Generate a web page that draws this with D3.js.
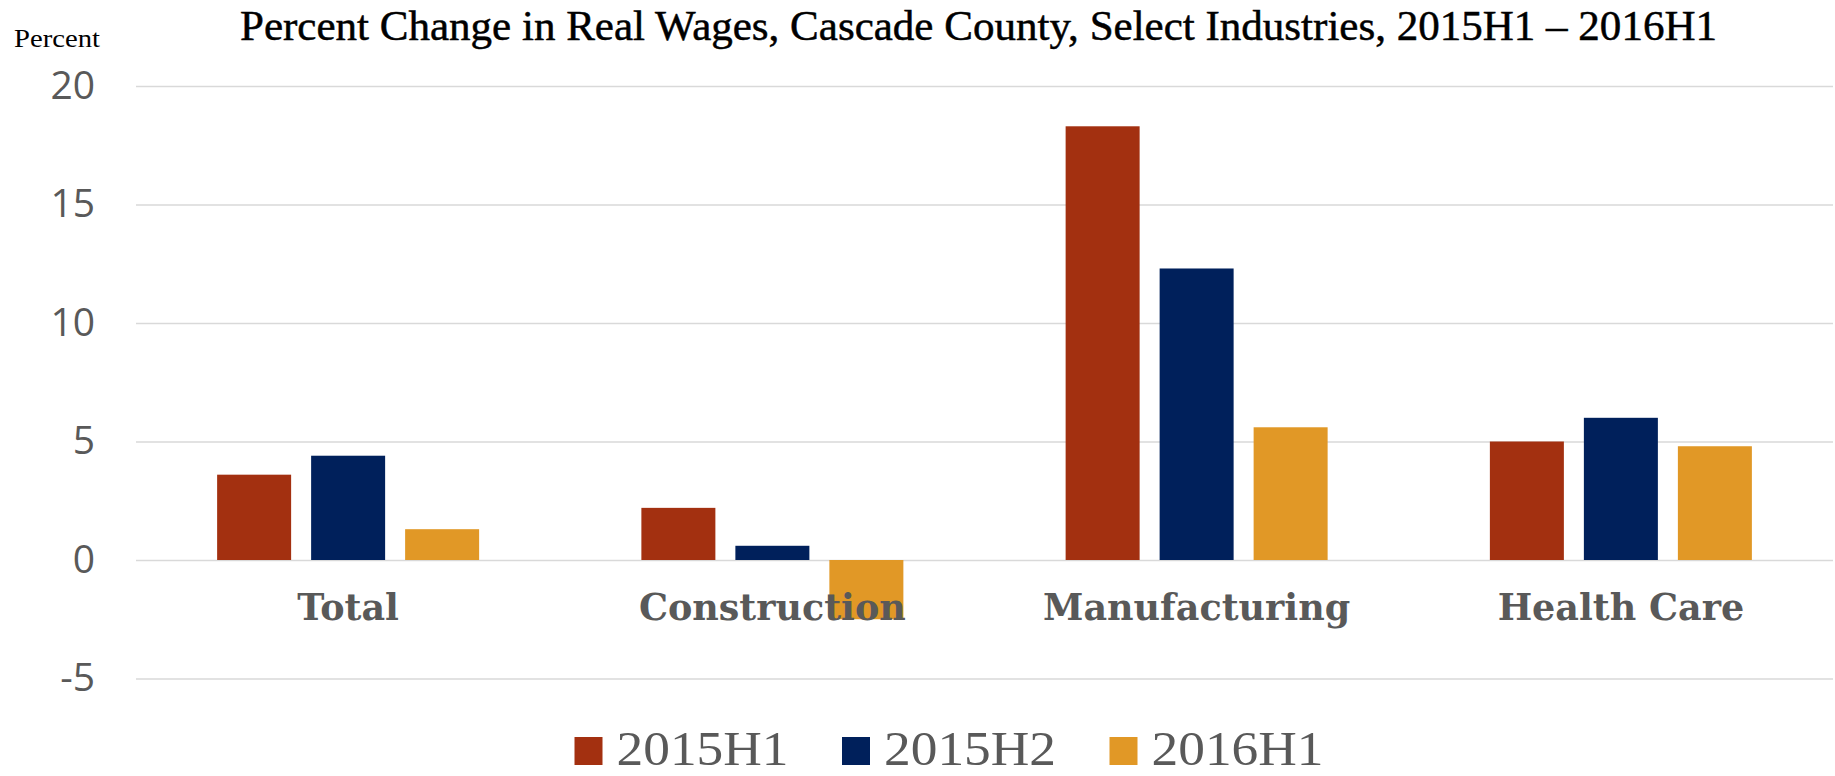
<!DOCTYPE html>
<meta charset="utf-8">
<script src="https://d3js.org/d3.v7.min.js"></script>
<style>
  body { margin: 0; background: #fff; }
</style>
<svg id="chart" width="1835" height="776"></svg>

<script>
  // data
  var categories = ["Total", "Construction", "Manufacturing", "Health Care"];
  var seriesNames = ["2015H1", "2015H2", "2016H1"];
  var h1_2015 = [3.6, 2.2, 18.3, 5.0];
  var h2_2015 = [4.4, 0.6, 12.3, 6.0];
  var h1_2016 = [1.3, -2.5, 5.6, 4.8];
  var yTicks = [-5, 0, 5, 10, 15, 20];

  var colors = ["#A33010", "#00205B", "#E19826"];
  var seriesValues = [h1_2015, h2_2015, h1_2016];

  var rows = categories.map(function(c, i) {
    return { cat: c, vals: seriesNames.map(function(s, j) { return { key: s, value: seriesValues[j][i] }; }) };
  });

  var svg = d3.select("#chart"),
      width = +svg.attr("width"),
      height = +svg.attr("height");

  var left = 136, right = 1833;

  // scales
  var y = d3.scaleLinear().domain([-5, 20]).range([678.5, 86]);

  var x0 = d3.scaleBand().domain(categories).range([left, right]).padding(0);

  var inner = 20 / 94;
  var outer = (x0.bandwidth() / 94 - 3 + inner) / 2;
  var x1 = d3.scaleBand().domain(seriesNames)
      .range([0, x0.bandwidth()])
      .paddingInner(inner)
      .paddingOuter(outer);

  var color = d3.scaleOrdinal().domain(seriesNames).range(colors);

  // gridlines + y labels
  var yAxis = svg.append("g")
      .attr("transform", "translate(" + left + ",0)")
      .call(d3.axisLeft(y)
        .tickValues(yTicks)
        .tickSize(-(right - left))
        .tickPadding(41)
        .tickFormat(function(d) { return String(d); }));

  yAxis.select(".domain").remove();
  yAxis.selectAll(".tick line")
      .attr("stroke", "#d9d9d9")
      .attr("stroke-width", 1.6);
  yAxis.selectAll(".tick text")
      .attr("fill", "#595959")
      .style("font-family", "'Open Sans', sans-serif")
      .style("font-size", "39px");

  // bars
  var groups = svg.append("g")
    .selectAll("g")
    .data(rows)
    .enter()
    .append("g")
      .attr("transform", function(d) { return "translate(" + x0(d.cat) + ",0)"; });

  groups.selectAll("rect")
    .data(function(d) { return d.vals; })
    .enter()
    .append("rect")
      .attr("x", function(d) { return x1(d.key); })
      .attr("width", x1.bandwidth())
      .attr("y", function(d) { return y(Math.max(0, d.value)); })
      .attr("height", function(d) { return Math.abs(y(d.value) - y(0)); })
      .attr("fill", function(d) { return color(d.key); });

  // category labels (drawn over the bars)
  svg.append("g")
    .selectAll("text")
    .data(categories)
    .enter()
    .append("text")
      .attr("x", function(d) { return x0(d) + x0.bandwidth() / 2; })
      .attr("y", 620)
      .attr("text-anchor", "middle")
      .attr("fill", "#595959")
      .style("font-family", "'DejaVu Serif', serif")
      .style("font-weight", "bold")
      .style("font-size", "36.5px")
      .text(function(d) { return d; });

  // title
  svg.append("text")
      .attr("x", 978.5)
      .attr("y", 40)
      .attr("text-anchor", "middle")
      .attr("textLength", 1477)
      .attr("lengthAdjust", "spacingAndGlyphs")
      .attr("fill", "#000")
      .attr("stroke", "#000")
      .attr("stroke-width", 0.5)
      .style("font-family", "'Liberation Serif', serif")
      .style("font-size", "42px")
      .text("Percent Change in Real Wages, Cascade County, Select Industries, 2015H1 \u2013 2016H1");

  svg.append("text")
      .attr("x", 14)
      .attr("y", 47)
      .attr("textLength", 86)
      .attr("lengthAdjust", "spacingAndGlyphs")
      .attr("fill", "#000")
      .style("font-family", "'Liberation Serif', serif")
      .style("font-size", "26px")
      .text("Percent");

  // legend
  var legendX = d3.scalePoint().domain(seriesNames).range([574.5, 1109.5]);

  var legend = svg.append("g")
    .selectAll("g")
    .data(seriesNames)
    .enter()
    .append("g")
      .attr("transform", function(d) { return "translate(" + legendX(d) + ",737)"; });

  legend.append("rect")
      .attr("width", 28)
      .attr("height", 28)
      .attr("fill", function(d) { return color(d); });

  legend.append("text")
      .attr("x", 42)
      .attr("y", 28)
      .attr("textLength", 172)
      .attr("lengthAdjust", "spacingAndGlyphs")
      .attr("fill", "#595959")
      .style("font-family", "'Liberation Serif', serif")
      .style("font-size", "48px")
      .text(function(d) { return d; });
</script>
